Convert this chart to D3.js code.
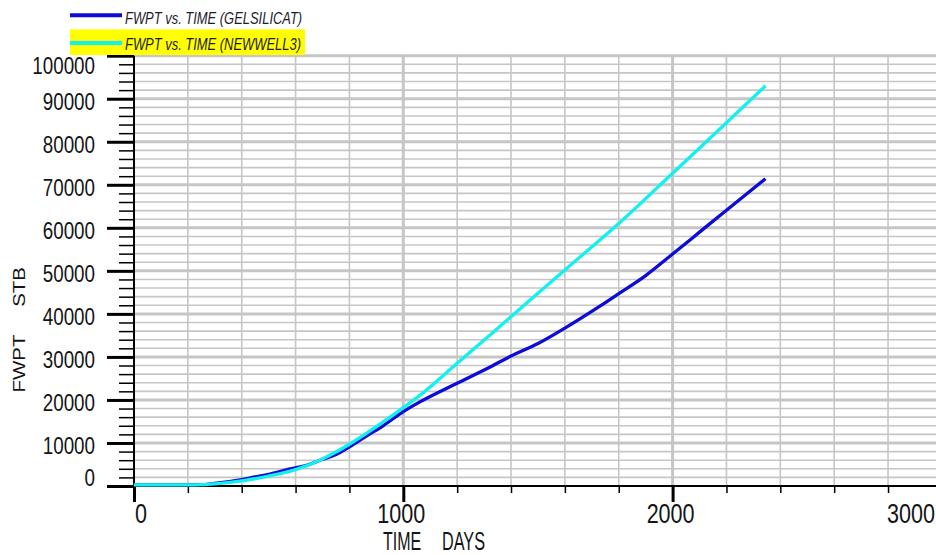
<!DOCTYPE html>
<html>
<head>
<meta charset="utf-8">
<script src="https://cdn.jsdelivr.net/npm/d3@7"></script>
<style>
  html, body { margin: 0; padding: 0; background: #ffffff; }
  svg { display: block; }
</style>
</head>
<body>
<svg id="chart" width="936" height="555"></svg>
<script>
// Cumulative field water production (FWPT, STB) against time (days)
const gelDays   = [0, 200, 250, 300, 400, 450, 500, 575, 650, 700, 750, 800, 860, 925, 1000, 1060, 1200, 1330, 1400, 1500, 1600, 1730, 1800, 1900, 2000, 2100, 2200, 2345];
const gelFwpt   = [250, 250, 300, 600, 1500, 2100, 2700, 3900, 5000, 6200, 7300, 9100, 11500, 14000, 17300, 19500, 23900, 27900, 30200, 33100, 36700, 41800, 44700, 48900, 53900, 59000, 64100, 71400];
const newDays   = [0, 200, 250, 300, 400, 500, 600, 700, 800, 900, 1000, 1060, 1200, 1400, 1600, 1800, 2000, 2200, 2345];
const newFwpt   = [250, 250, 300, 500, 1200, 2300, 3800, 6300, 9700, 13800, 18200, 21000, 28500, 39350, 50200, 61000, 72700, 84400, 93000];

const seriesNames = ["FWPT vs. TIME (GELSILICAT)", "FWPT vs. TIME (NEWWELL3)"];
const seriesColors = ["#0c0cd6", "#12f0f0"];

const xMajorTicks = [0, 1000, 2000, 3000];
const xTickLabels = ["0", "1000", "2000", "3000"];
const yMajorTicks = [0, 10000, 20000, 30000, 40000, 50000, 60000, 70000, 80000, 90000, 100000];
const yTickLabels = ["0", "10000", "20000", "30000", "40000", "50000", "60000", "70000", "80000", "90000", "100000"];
const xTitleWords = ["TIME", "DAYS"];
const yTitleWords = ["FWPT", "STB"];

const svg = d3.select("#chart");
const W = 936, H = 555;
const plotLeft = 134, plotTop = 55.7, plotBottom = 486;

const x = d3.scaleLinear().domain([0, 3000]).range([plotLeft, plotLeft + 3 * 269.3]);
const y = d3.scaleLinear().domain([0, 100000]).range([plotBottom, plotTop]);

const xMinor = d3.range(0, 3001, 200);
const yMinor = d3.range(0, 100001, 2000);

svg.append("rect").attr("width", W).attr("height", H).attr("fill", "#ffffff");

// grid
const grid = svg.append("g");
grid.selectAll("line.h").data(yMinor.filter(v => v > 0)).join("line")
  .attr("x1", plotLeft).attr("x2", W)
  .attr("y1", d => y(d)).attr("y2", d => y(d))
  .attr("stroke", "#c6c6c6")
  .attr("stroke-width", d => d % 10000 === 0 ? 3 : 1.6);
grid.selectAll("line.v").data(xMinor.filter(v => v > 0)).join("line")
  .attr("x1", d => x(d)).attr("x2", d => x(d))
  .attr("y1", plotTop).attr("y2", plotBottom)
  .attr("stroke", "#c6c6c6")
  .attr("stroke-width", d => d % 1000 === 0 ? 3 : 1.6);

// y axis: minor and major ticks
const yMinorAxis = d3.axisLeft(y).tickValues(yMinor.filter(v => v % 10000 !== 0)).tickSize(15).tickFormat("");
const yMajorAxis = d3.axisLeft(y).tickValues(yMajorTicks).tickSize(27).tickFormat("");
const gyMinor = svg.append("g").attr("transform", `translate(${plotLeft},0)`).call(yMinorAxis);
const gyMajor = svg.append("g").attr("transform", `translate(${plotLeft},0)`).call(yMajorAxis);
gyMinor.select(".domain").remove();
gyMajor.select(".domain").remove();
gyMinor.selectAll(".tick line").attr("stroke", "#000").attr("stroke-width", 1.5);
gyMajor.selectAll(".tick line").attr("stroke", "#000").attr("stroke-width", 3);

// x axis: minor and major ticks
const xMinorAxis = d3.axisBottom(x).tickValues(xMinor.filter(v => v % 1000 !== 0 && x(v) < W)).tickSize(7).tickFormat("");
const xMajorAxis = d3.axisBottom(x).tickValues(xMajorTicks.filter(v => x(v) < W)).tickSize(16).tickFormat("");
const gxMinor = svg.append("g").attr("transform", `translate(0,${plotBottom})`).call(xMinorAxis);
const gxMajor = svg.append("g").attr("transform", `translate(0,${plotBottom})`).call(xMajorAxis);
gxMinor.select(".domain").remove();
gxMajor.select(".domain").remove();
gxMinor.selectAll(".tick line").attr("stroke", "#000").attr("stroke-width", 1.5);
gxMajor.selectAll(".tick line").attr("stroke", "#000").attr("stroke-width", 3);

// axis lines
svg.append("line").attr("x1", plotLeft).attr("x2", plotLeft).attr("y1", plotTop).attr("y2", plotBottom)
  .attr("stroke", "#000").attr("stroke-width", 2);
svg.append("line").attr("x1", plotLeft - 27).attr("x2", W).attr("y1", plotBottom).attr("y2", plotBottom)
  .attr("stroke", "#000").attr("stroke-width", 2);

// y tick labels (kept inside the axis span)
const font = "'Liberation Sans', Arial, sans-serif";
svg.append("g").selectAll("text").data(yMajorTicks).join("text")
  .attr("transform", d => {
    const c = Math.min(Math.max(y(d) + 3, plotTop + 10), plotBottom - 9);
    return `translate(95,${c + 8.5}) scale(0.8,1)`;
  })
  .attr("text-anchor", "end")
  .attr("font-family", font).attr("font-size", 23.5).attr("fill", "#151515")
  .text((d, i) => yTickLabels[i]);

// x tick labels (kept inside the drawing width)
const xl = svg.append("g").selectAll("text").data(xMajorTicks).join("text")
  .attr("font-family", font).attr("font-size", 28).attr("fill", "#151515")
  .attr("text-anchor", "middle")
  .text((d, i) => xTickLabels[i]);
xl.each(function(d) {
  const half = this.getBBox().width * 0.77 / 2;
  let c = x(d) - 2;
  c = Math.max(c, plotLeft + 1 + half);
  c = Math.min(c, W - 1 - half);
  d3.select(this).attr("transform", `translate(${c},523) scale(0.77,1)`);
});

// axis titles
svg.append("text").attr("transform", "translate(383,550) scale(0.64,1)")
  .attr("font-family", font).attr("font-size", 25).attr("fill", "#151515").text(xTitleWords[0]);
svg.append("text").attr("transform", "translate(442,550) scale(0.65,1)")
  .attr("font-family", font).attr("font-size", 25).attr("fill", "#151515").text(xTitleWords[1]);
svg.append("text").attr("transform", "translate(25,363.5) rotate(-90) scale(1.2,1)")
  .attr("text-anchor", "middle")
  .attr("font-family", font).attr("font-size", 17).attr("fill", "#151515").text(yTitleWords[0]);
svg.append("text").attr("transform", "translate(25,287) rotate(-90) scale(1.2,1)")
  .attr("text-anchor", "middle")
  .attr("font-family", font).attr("font-size", 17).attr("fill", "#151515").text(yTitleWords[1]);

// curves
const line = d3.line().x(d => x(d[0])).y(d => y(d[1])).curve(d3.curveMonotoneX);
const series = [
  d3.zip(gelDays, gelFwpt),
  d3.zip(newDays, newFwpt)
];
svg.append("g").selectAll("path").data(series).join("path")
  .attr("d", line)
  .attr("fill", "none")
  .attr("stroke", (d, i) => seriesColors[i])
  .attr("stroke-width", 3.3)
  .attr("stroke-linejoin", "round");

// legend
const legend = svg.append("g");
legend.append("rect").attr("x", 70).attr("y", 29.3).attr("width", 235).attr("height", 25.7).attr("fill", "#ffff00");
const legendRows = [15.3, 43];
const legendBase = [23.5, 50];
seriesNames.forEach((name, i) => {
  legend.append("line").attr("x1", 70).attr("x2", 122)
    .attr("y1", legendRows[i]).attr("y2", legendRows[i])
    .attr("stroke", seriesColors[i]).attr("stroke-width", 4);
  legend.append("text").attr("transform", `translate(125,${legendBase[i]}) scale(0.77,1)`)
    .attr("font-family", font).attr("font-style", "italic").attr("font-size", 16.8)
    .attr("fill", "#1c1c2a").text(name);
});
</script>
</body>
</html>
